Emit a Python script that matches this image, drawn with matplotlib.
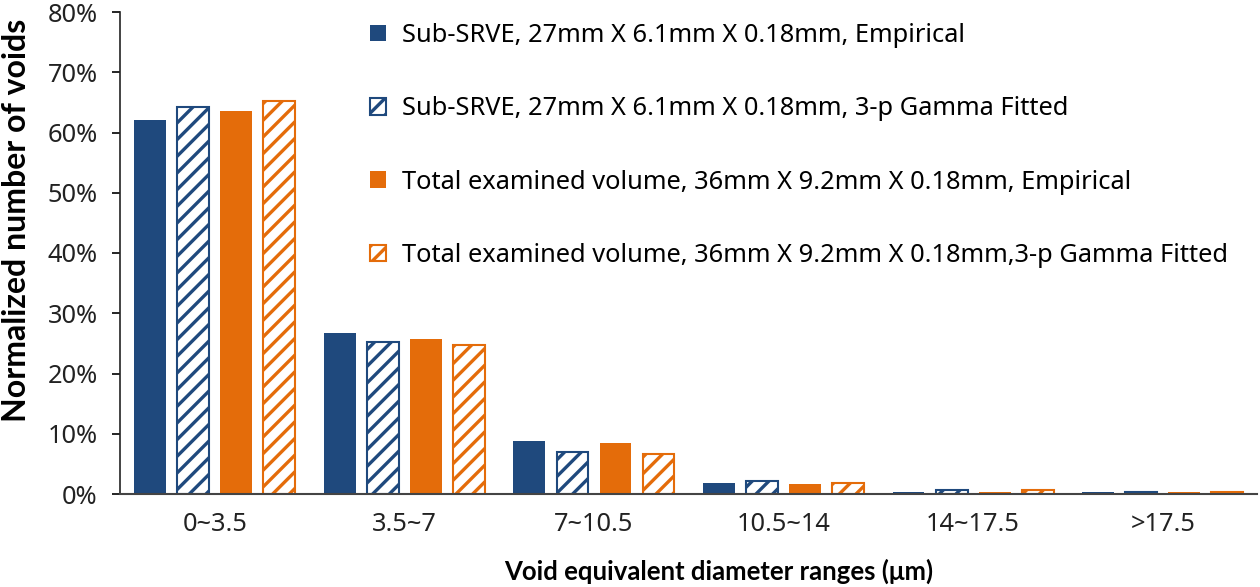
import numpy as np
import matplotlib
matplotlib.use('Agg')
import matplotlib.pyplot as plt
from matplotlib.ticker import PercentFormatter

plt.rcParams['font.family'] = ['Noto Sans', 'DejaVu Sans']
plt.rcParams['hatch.linewidth'] = 2.4

################################################################################

categories = ['0~3.5', '3.5~7', '7~10.5', '10.5~14', '14~17.5', '>17.5']

sub_emp = [62.0, 26.7, 8.8, 1.9, 0.3, 0.3]
sub_fit = [64.2, 25.3, 6.9, 2.2, 0.7, 0.3]
tot_emp = [63.5, 25.7, 8.5, 1.6, 0.3, 0.3]
tot_fit = [65.2, 24.8, 6.6, 1.9, 0.7, 0.3]

labels = ['Sub-SRVE, 27mm X 6.1mm X 0.18mm, Empirical',
          'Sub-SRVE, 27mm X 6.1mm X 0.18mm, 3-p Gamma Fitted',
          'Total examined volume, 36mm X 9.2mm X 0.18mm, Empirical',
          'Total examined volume, 36mm X 9.2mm X 0.18mm,3-p Gamma Fitted']

blue = '#1F497D'
orange = '#E46C0A'

#------------------------------------------------------------------------------>

fig = plt.figure(figsize=(12.6, 5.87), dpi=100)
ax = fig.add_axes([120/1260, 1-494/587, 1-120/1260-0.002, (494-12)/587])

x = np.arange(len(categories))
w = 0.168
step = 0.227

ax.bar(x - 1.5*step, sub_emp, w, color=blue, label=labels[0])
ax.bar(x - 0.5*step, sub_fit, w, color='white', edgecolor=blue,
       hatch='//', linewidth=1.5, label=labels[1])
ax.bar(x + 0.5*step, tot_emp, w, color=orange, label=labels[2])
ax.bar(x + 1.5*step, tot_fit, w, color='white', edgecolor=orange,
       hatch='//', linewidth=1.5, label=labels[3])

ax.set_xlim(-0.5, len(categories) - 0.5)
ax.set_ylim(0, 80)
ax.set_yticks(np.arange(0, 81, 10))
ax.yaxis.set_major_formatter(PercentFormatter(decimals=0))
ax.set_xticks(x)
ax.set_xticklabels(categories)
ax.tick_params(axis='x', length=0, pad=13, labelsize=18.3, labelcolor='#222222')
ax.tick_params(axis='y', length=6, width=1.2, labelsize=18.3, pad=10,
               labelcolor='#222222')

for s in ['top', 'right']:
    ax.spines[s].set_visible(False)
ax.spines['left'].set_color('#222222')
ax.spines['bottom'].set_color('#444444')
ax.spines['left'].set_linewidth(1.2)
ax.spines['bottom'].set_linewidth(1.5)

# Noto Sans n'a pas de gras ici -> Lato pour les titres d'axes
ax.set_xlabel('Void equivalent diameter ranges (μm)', fontsize=18.5,
              fontweight='bold', family=['Lato', 'DejaVu Sans'])
ax.xaxis.set_label_coords(0.526, -0.135)
ax.set_ylabel('Normalized number of voids', fontsize=23,
              fontweight='bold', family=['Lato', 'DejaVu Sans'])
ax.yaxis.set_label_coords(-0.078, 0.568)

ax.legend(loc='upper left', bbox_to_anchor=(0.220, 0.977), frameon=False,
          fontsize=18.3, handlelength=0.63, handleheight=0.63,
          handletextpad=0.63, labelspacing=1.9, borderpad=0,
          borderaxespad=0)

fig.savefig('out.png', dpi=100)
